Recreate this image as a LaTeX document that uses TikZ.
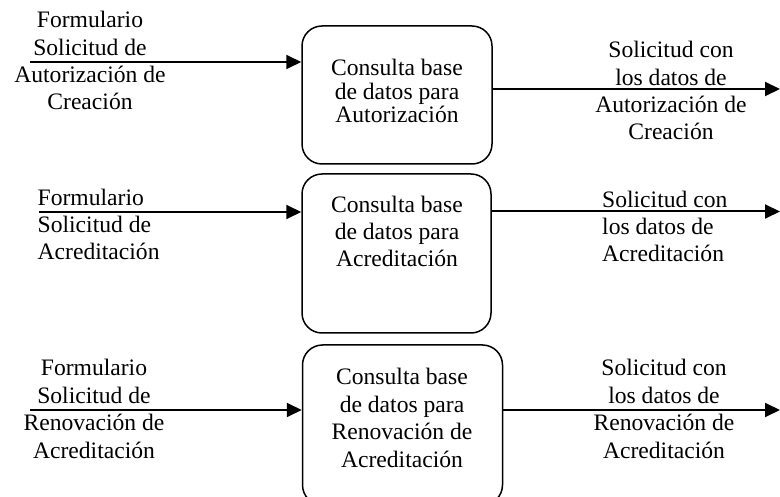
\documentclass[tikz,border=0pt]{standalone}
\usepackage{fontspec}
\setmainfont{Liberation Serif}
\usetikzlibrary{arrows.meta}
\begin{document}
\begin{tikzpicture}[x=1pt,y=-1pt,
  proc/.style={draw,line width=1.5pt,rounded corners=20pt,inner sep=0pt},
  lbl/.style={inner sep=0pt,anchor=base,align=center,font=\fontsize{23.6}{27.4}\selectfont},
  lbll/.style={inner sep=0pt,anchor=base west,align=left,font=\fontsize{23.6}{27.4}\selectfont},
  flow/.style={line width=2pt,-{Triangle[length=15pt,width=14pt]}}]
\useasboundingbox (0,0) rectangle (780,497);
\clip (0,0) rectangle (780,497);
% boxes
\node[proc,minimum width=190pt,minimum height=138pt] (b1) at (397,95) {};
\node[proc,minimum width=189pt,minimum height=159pt] (b2) at (396.5,253.5) {};
\node[proc,minimum width=200pt,minimum height=160pt] (b3) at (402.5,425) {};
% box texts (anchor = baseline of last line)
\node[lbl,font=\fontsize{23.6}{23.8}\selectfont] (t1) at (397,123) {Consulta base\\de datos para\\Autorización};
\node[lbl] (t2) at (397,267) {Consulta base\\de datos para\\Acreditación};
\node[lbl] (t3) at (402,467) {Consulta base\\de datos para\\Renovación de\\Acreditación};
% input labels
\node[lbl] (i1) at (90,110) {Formulario\\Solicitud de\\Autorización de\\Creación};
\node[lbll] (i2) at (37.5,260) {Formulario\\Solicitud de\\Acreditación};
\node[lbl] (i3) at (94,458) {Formulario\\Solicitud de\\Renovación de\\Acreditación};
% output labels
\node[lbl] (o1) at (671,140) {Solicitud con\\los datos de\\Autorización de\\Creación};
\node[lbll] (o2) at (602,262) {Solicitud con\\los datos de\\Acreditación};
\node[lbl] (o3) at (664,458) {Solicitud con\\los datos de\\Renovación de\\Acreditación};
% connectors
\coordinate (s1) at (30,62);
\coordinate (s2) at (39,212);
\coordinate (s3) at (30,410);
\coordinate (e1) at (780,89);
\coordinate (e2) at (780,211.5);
\coordinate (e3) at (780,410);
\draw[flow] (s1) -- (s1 -| b1.west);
\draw[flow] (s2) -- (s2 -| b2.west);
\draw[flow] (s3) -- (s3 -| b3.west);
\draw[flow] (e1 -| b1.east) -- (e1);
\draw[flow] (e2 -| b2.east) -- (e2);
\draw[flow] (e3 -| b3.east) -- (e3);
\end{tikzpicture}
\end{document}
